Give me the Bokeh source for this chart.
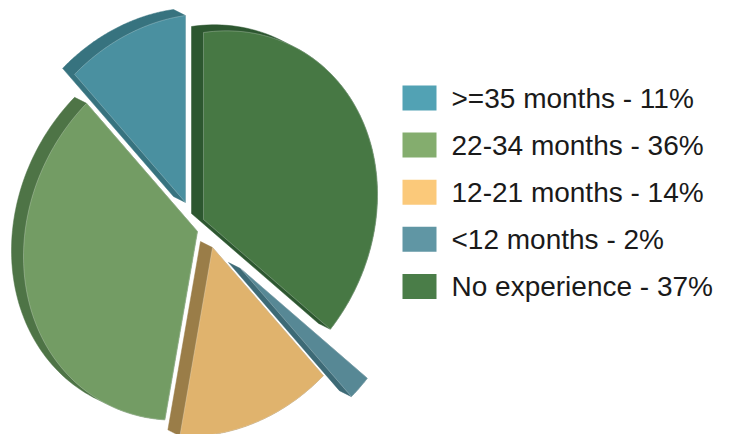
import numpy as np
from bokeh.plotting import figure
from bokeh.models import Range1d
from bokeh.core.properties import value
from bokeh.embed import file_html
from bokeh.resources import INLINE

# ---- data ----
categories = [">=35 months", "22-34 months", "12-21 months", "<12 months", "No experience"]
shares = [11, 36, 14, 2, 37]

# ---- styles ----
face_colors = ["#4A90A0", "#739C64", "#E0B36D", "#578895", "#477844"]
side_colors = ["#37737F", "#4E7446", "#9A7D48", "#3D6A76", "#2D5730"]
legend_colors = ["#52A2B4", "#84AD6E", "#FBC97A", "#6096A4", "#4A7D48"]
# exploded apex position of each slice (screen px)
apex = [(185, 202), (197, 231), (212, 247), (240, 268), (203, 219)]
# projection of the tilted disc
M = np.array([[174.0, 0.0], [-25.0, 187.0]])
depth = (-12.0, -6.0)

W, H = 734, 434


def convex_hull(points):
    pts = sorted(set(points))
    if len(pts) <= 2:
        return pts

    def cross(o, a, b):
        return (a[0] - o[0]) * (b[1] - o[1]) - (a[1] - o[1]) * (b[0] - o[0])

    lower = []
    for q in pts:
        while len(lower) >= 2 and cross(lower[-2], lower[-1], q) <= 0:
            lower.pop()
        lower.append(q)
    upper = []
    for q in reversed(pts):
        while len(upper) >= 2 and cross(upper[-2], upper[-1], q) <= 0:
            upper.pop()
        upper.append(q)
    return lower[:-1] + upper[:-1]


p = figure(width=W, height=H, output_backend="svg", toolbar_location=None,
           x_range=Range1d(0, W), y_range=Range1d(H, 0), min_border=0)
p.axis.visible = False
p.grid.visible = False
p.outline_line_color = None
p.background_fill_color = "white"
p.border_fill_color = "white"

faces = []
sides = []
cum = 0.0
total = float(sum(shares))
for i, v in enumerate(shares):
    t0 = -cum / total * 2 * np.pi
    t1 = -(cum + v) / total * 2 * np.pi
    cum += v
    ts = np.linspace(t0, t1, 80)
    ax, ay = apex[i]
    xs = ax + M[0, 0] * np.sin(ts) + M[0, 1] * (-np.cos(ts))
    ys = ay + M[1, 0] * np.sin(ts) + M[1, 1] * (-np.cos(ts))
    fx = [ax] + list(xs)
    fy = [ay] + list(ys)
    faces.append((fx, fy))
    pts = [(round(x, 3), round(y, 3)) for x, y in zip(fx, fy)]
    pts += [(round(x + depth[0], 3), round(y + depth[1], 3)) for x, y in zip(fx, fy)]
    hull = convex_hull(pts)
    sides.append(([q[0] for q in hull], [q[1] for q in hull]))

for i, (sx, sy) in enumerate(sides):
    p.patch(sx, sy, fill_color=side_colors[i], line_color=side_colors[i], line_width=0.5)
for i, (fx, fy) in enumerate(faces):
    p.patch(fx, fy, fill_color=face_colors[i], line_color="#FFFFFF", line_alpha=0.25, line_width=1)

# ---- legend ----
labels = [f"{c} - {v}%" for c, v in zip(categories, shares)]
ly = [97.5 + 47.1 * k for k in range(len(labels))]
p.rect(x=[419] * len(labels), y=ly, width=34, height=25, fill_color=legend_colors, line_color=None)
p.text(x=[451] * len(labels), y=ly, text=labels, text_font=value("Liberation Sans"),
       text_font_size="28px", text_baseline="middle", text_align="left", text_color="#1A1A1A")

open("out.html", "w").write(file_html(p, INLINE))
